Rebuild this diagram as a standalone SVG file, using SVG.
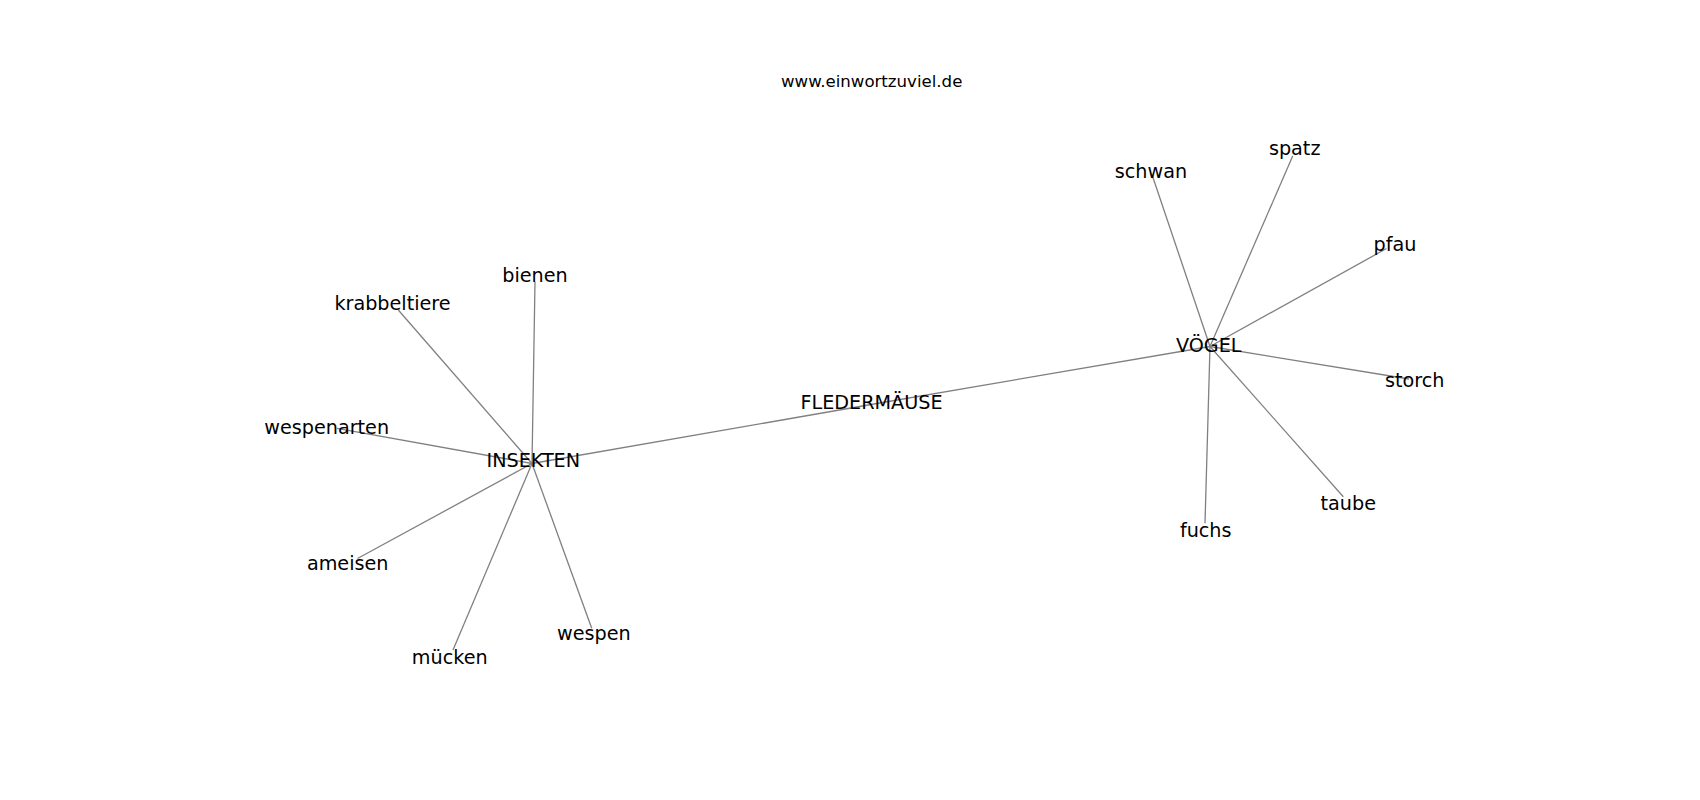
<svg xmlns="http://www.w3.org/2000/svg" width="1700" height="800" viewBox="0 0 1700 800">
<style>
.bg{fill:#ffffff}
.edge{stroke:#808080;stroke-width:1.3;fill:none;stroke-linecap:butt}
.lbl{font-family:"DejaVu Sans","Liberation Sans",sans-serif;font-size:19.2px;fill:#000000;text-anchor:middle}
.title{font-family:"DejaVu Sans","Liberation Sans",sans-serif;font-size:16.6px;fill:#000000;text-anchor:middle}
</style>
<rect class="bg" x="0" y="0" width="1700" height="800"/>
<text class="title" x="871.7" y="87.3">www.einwortzuviel.de</text>
<g id="connectors">
<line class="edge" x1="532" y1="463.5" x2="871" y2="404.5"/>
<line class="edge" x1="871" y1="404.5" x2="1210" y2="346.5"/>
<line class="edge" x1="532" y1="463.5" x2="535" y2="281.7"/>
<line class="edge" x1="532" y1="463.5" x2="398.3" y2="310"/>
<line class="edge" x1="532" y1="463.5" x2="337" y2="428.3"/>
<line class="edge" x1="532" y1="463.5" x2="357.5" y2="558.5"/>
<line class="edge" x1="532" y1="463.5" x2="453" y2="650"/>
<line class="edge" x1="532" y1="463.5" x2="591.7" y2="628.3"/>
<line class="edge" x1="1210" y1="346.5" x2="1152.7" y2="176.7"/>
<line class="edge" x1="1210" y1="346.5" x2="1292.7" y2="156"/>
<line class="edge" x1="1210" y1="346.5" x2="1386.5" y2="248.5"/>
<line class="edge" x1="1210" y1="346.5" x2="1409" y2="379"/>
<line class="edge" x1="1210" y1="346.5" x2="1343.3" y2="496.7"/>
<line class="edge" x1="1210" y1="346.5" x2="1205" y2="523.3"/>
</g>
<g id="node-fledermaeuse"><text class="lbl" x="871.5" y="408.6">FLEDERMÄUSE</text></g>
<g id="node-insekten"><text class="lbl" x="533.3" y="467">INSEKTEN</text></g>
<g id="node-voegel"><text class="lbl" x="1208.7" y="352">VÖGEL</text></g>
<g id="node-bienen"><text class="lbl" x="535" y="282">bienen</text></g>
<g id="node-krabbeltiere"><text class="lbl" x="392.5" y="310.3">krabbeltiere</text></g>
<g id="node-wespenarten"><text class="lbl" x="326.7" y="433.6">wespenarten</text></g>
<g id="node-ameisen"><text class="lbl" x="347.7" y="570.3">ameisen</text></g>
<g id="node-muecken"><text class="lbl" x="449.7" y="663.6">mücken</text></g>
<g id="node-wespen"><text class="lbl" x="593.8" y="639.8">wespen</text></g>
<g id="node-schwan"><text class="lbl" x="1151" y="178">schwan</text></g>
<g id="node-spatz"><text class="lbl" x="1294.7" y="155.3">spatz</text></g>
<g id="node-pfau"><text class="lbl" x="1395" y="250.8">pfau</text></g>
<g id="node-storch"><text class="lbl" x="1414.7" y="387">storch</text></g>
<g id="node-taube"><text class="lbl" x="1348.3" y="510.3">taube</text></g>
<g id="node-fuchs"><text class="lbl" x="1205.7" y="537">fuchs</text></g>
</svg>
